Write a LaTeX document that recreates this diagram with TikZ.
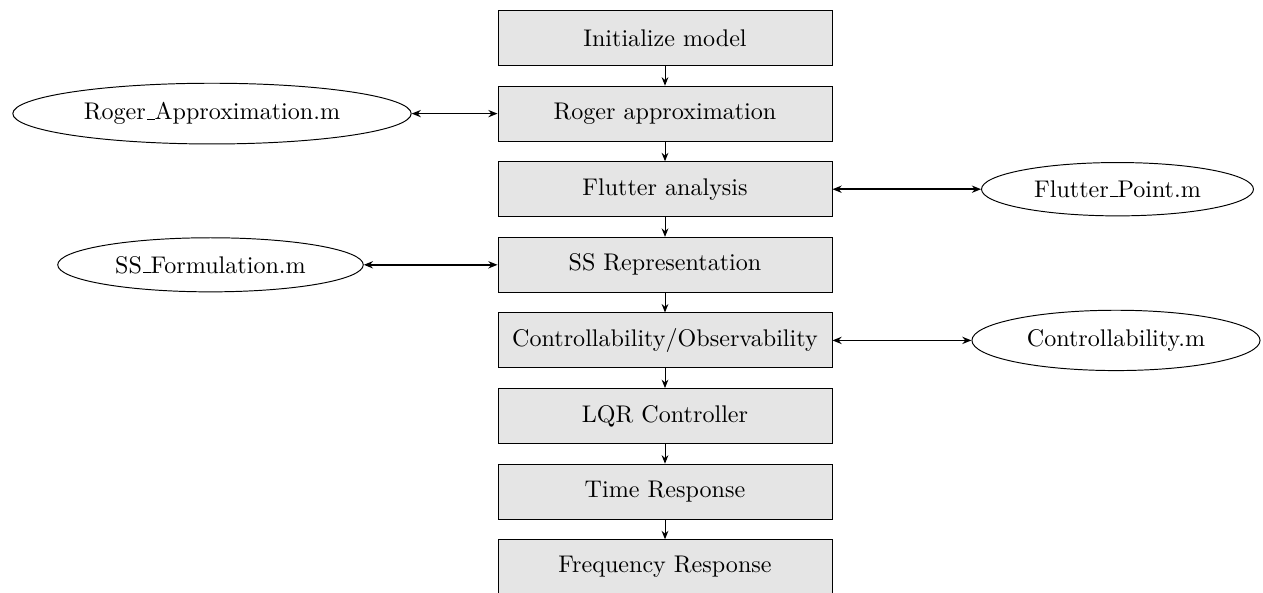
\documentclass[tikz,border=0pt]{standalone}
\usetikzlibrary{shapes.geometric,arrows.meta}
\newcommand\myus{\leavevmode\kern.06em\vbox{\hrule width.3em}}
\begin{document}
\begin{tikzpicture}[x=0.415pt,y=-0.415pt,
  stepbox/.style={draw, fill=gray!20, minimum width=138.6pt, minimum height=22.8pt, inner sep=0pt},
  filenode/.style={draw, ellipse, inner xsep=5.3pt, inner ysep=4.3pt},
  flow/.style={-{Stealth[length=3.5pt,width=2.8pt]}},
  link/.style={{Stealth[length=3.8pt,width=3pt]}-{Stealth[length=3.8pt,width=3pt]}, semithick}]
\useasboundingbox (0,0) rectangle (1263,592);
\node[stepbox] (n1) at (665,38) {Initialize model};
\node[stepbox] (n2) at (665,113.6) {Roger approximation};
\node[stepbox] (n3) at (665,189.2) {Flutter analysis};
\node[stepbox] (n4) at (665,264.8) {SS Representation};
\node[stepbox] (n5) at (665,340.4) {Controllability/Observability};
\node[stepbox] (n6) at (665,416) {LQR Controller};
\node[stepbox] (n7) at (665,491.6) {Time Response};
\node[stepbox] (n8) at (665,567.2) {Frequency Response};
\node[filenode] (e1) at (212,113.6) {Roger\myus Approximation.m};
\node[filenode] (e2) at (1117.5,189.2) {Flutter\myus Point.m};
\node[filenode] (e3) at (210.5,264.8) {SS\myus Formulation.m};
\node[filenode] (e4) at (1116,340.4) {Controllability.m};
\draw[flow] (n1) -- (n2);
\draw[flow] (n2) -- (n3);
\draw[flow] (n3) -- (n4);
\draw[flow] (n4) -- (n5);
\draw[flow] (n5) -- (n6);
\draw[flow] (n6) -- (n7);
\draw[flow] (n7) -- (n8);
\draw[link] (e1.east) -- (n2.west);
\draw[link] (n3.east) -- (e2.west);
\draw[link] (e3.east) -- (n4.west);
\draw[link] (n5.east) -- (e4.west);
\end{tikzpicture}
\end{document}
